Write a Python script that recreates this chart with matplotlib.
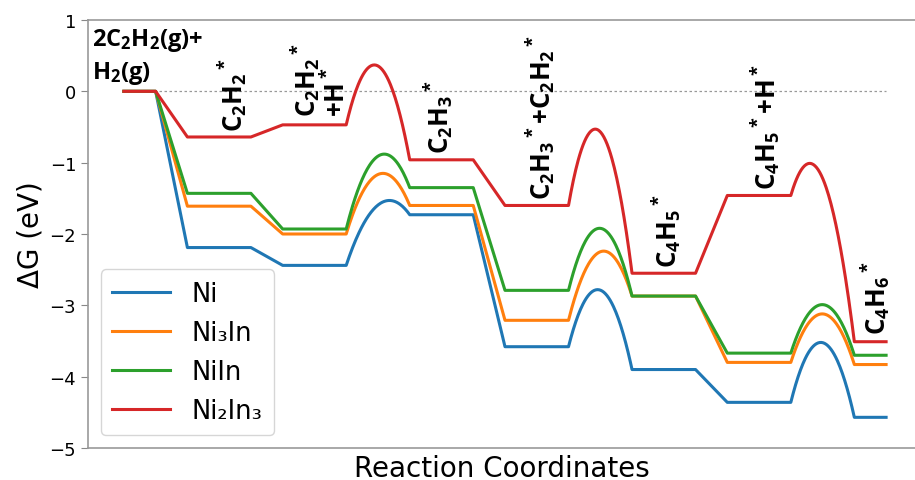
import numpy as np
import matplotlib
matplotlib.use("Agg")
import matplotlib.pyplot as plt

plt.rcParams['mathtext.fontset'] = 'custom'
plt.rcParams['mathtext.rm'] = 'Open Sans:bold'
plt.rcParams['mathtext.it'] = 'Open Sans:bold'
plt.rcParams['mathtext.bf'] = 'Open Sans:bold'

# ---- data ----
series_names = ["Ni", "Ni₃In", "NiIn", "Ni₂In₃"]
series_colors = ["#1f77b4", "#ff7f0e", "#2ca02c", "#d62728"]
# intermediate states: start, C2H2*, C2H2*+H*, C2H3*, C2H3*+C2H2*, C4H5*, C4H5*+H*, C4H6*
ni_levels      = [0.0, -2.19, -2.44, -1.73, -3.58, -3.90, -4.36, -4.57]
ni3in_levels   = [0.0, -1.61, -2.00, -1.60, -3.21, -2.87, -3.80, -3.83]
niin_levels    = [0.0, -1.43, -1.93, -1.35, -2.79, -2.87, -3.67, -3.70]
ni2in3_levels  = [0.0, -0.64, -0.47, -0.96, -1.60, -2.55, -1.46, -3.51]
# transition-state energies (between states 2-3, 4-5, 6-7)
ni_ts     = [-1.53, -2.78, -3.52]
ni3in_ts  = [-1.15, -2.24, -3.12]
niin_ts   = [-0.88, -1.92, -2.99]
ni2in3_ts = [0.37, -0.53, -1.01]
ts_after_state = [2, 4, 6]

state_labels = [r"C$_2$H$_2{}^*$", "C$_2$H$_2{}^*$\n+H$^*$", r"C$_2$H$_3{}^*$",
                r"C$_2$H$_3{}^*$+C$_2$H$_2{}^*$", r"C$_4$H$_5{}^*$",
                r"C$_4$H$_5{}^*$+H$^*$", r"C$_4$H$_6{}^*$"]
start_label = "2C$_2$H$_2$(g)+\nH$_2$(g)"

# ---- layout ----
spans = [(0, 1), (2, 4), (5, 7), (9, 11), (12, 14), (16, 18), (19, 21), (23, 24)]
label_pos = [(3.4, -0.56), (6.16, -0.35), (9.89, -0.865), (13.1, -1.51),
             (17.07, -2.46), (20.2, -1.37), (23.65, -3.40)]


def ts_curve(a, c, e, n=80):
    d = c - a
    m = e - a
    B = 8 * d - 16 * m
    k = (-B + np.sqrt(max(B * B - 64 * d * d, 0.0))) / 32.0
    s = np.linspace(0, 1, n)
    return s, a + d * s + 4 * k * s * (1 - s)


def profile(levels, ts):
    xs, ys = [], []
    ts_map = dict(zip(ts_after_state, ts))
    for i, (x0, x1) in enumerate(spans):
        xs += [x0, x1]
        ys += [levels[i], levels[i]]
        if i + 1 < len(spans):
            nx0 = spans[i + 1][0]
            if i in ts_map:
                s, y = ts_curve(levels[i], levels[i + 1], ts_map[i])
                xs += list(x1 + s * (nx0 - x1))
                ys += list(y)
    return np.array(xs), np.array(ys)


fig = plt.figure(figsize=(9.15, 4.81), dpi=100)
ax = fig.add_axes([88 / 915, 1 - 449 / 481, 1 - 88 / 915, (449 - 21) / 481])

ax.hlines(0, 0, 24, colors="#999999", linestyles=(0, (2, 2)), lw=0.9, zorder=1)

all_levels = [ni_levels, ni3in_levels, niin_levels, ni2in3_levels]
all_ts = [ni_ts, ni3in_ts, niin_ts, ni2in3_ts]
for name, col, lv, ts in zip(series_names, series_colors, all_levels, all_ts):
    x, y = profile(lv, ts)
    ax.plot(x, y, color=col, lw=2.2, label=name, zorder=3)

for lab, (lx, ly) in zip(state_labels, label_pos):
    ax.text(lx, ly, lab, rotation=90, ha="center", va="bottom",
            multialignment="left", fontsize=18.5, fontfamily="Open Sans",
            fontweight="bold", linespacing=1.0, zorder=4)

ax.text(-1.0, 0.92, start_label, ha="left", va="top", fontsize=17,
        fontfamily="Open Sans", fontweight="bold", linespacing=1.35)

ax.set_xlim(-1.13, 24.91)
ax.set_ylim(-5, 1)
ax.set_yticks(range(-5, 2))
ax.set_xticks([])
ax.tick_params(axis="y", labelsize=13, length=5, color="#888888")
ax.set_ylabel("ΔG (eV)", fontsize=20)
ax.set_xlabel("Reaction Coordinates", fontsize=20, labelpad=4)
ax.spines["right"].set_visible(False)
for sp in ["top", "bottom", "left"]:
    ax.spines[sp].set_color("#999999")
    ax.spines[sp].set_linewidth(1.2)

ax.legend(loc="lower left", fontsize=18.5, handlelength=2.24,
          handletextpad=0.85, borderpad=0.45)

fig.savefig("out.png", dpi=100)
